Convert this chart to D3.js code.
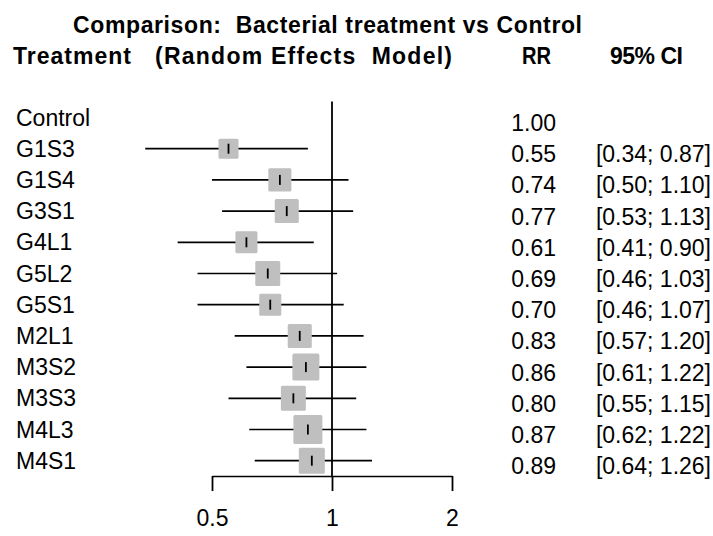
<!DOCTYPE html>
<html>
<head>
<meta charset="utf-8">
<script src="https://cdn.jsdelivr.net/npm/d3@7"></script>
<style>
  body { margin: 0; background: #fff; }
  text { font-family: "Liberation Sans", Arial, sans-serif; white-space: pre; }
</style>
</head>
<body>
<div id="chart"></div>
<script>
"use strict"

var treatments = ["Control", "G1S3", "G1S4", "G3S1", "G4L1", "G5L2", "G5S1", "M2L1", "M3S2", "M3S3", "M4L3", "M4S1"];
var rr = [1.00, 0.55, 0.74, 0.77, 0.61, 0.69, 0.70, 0.83, 0.86, 0.80, 0.87, 0.89];
var lower = [null, 0.34, 0.50, 0.53, 0.41, 0.46, 0.46, 0.57, 0.61, 0.55, 0.62, 0.64];
var upper = [null, 0.87, 1.10, 1.13, 0.90, 1.03, 1.07, 1.20, 1.22, 1.15, 1.22, 1.26];
var weights = [null, 6.1, 8.1, 8.8, 7.4, 9.5, 7.4, 8.8, 11.1, 9.5, 12.8, 10.3];
var tickValues = [0.5, 1, 2];
var tickLabels = ["0.5", "1", "2"];

var width = 713, height = 536, fs = 23;

var svg = d3.select("#chart").append("svg")
    .attr("width", width).attr("height", height);

var x = d3.scaleLog().domain([0.5, 2]).range([212, 452]);
var y = d3.scalePoint().domain(treatments).range([117.5, 460.7]);
var box = d3.scaleSqrt().domain([0, 12.8]).range([0, 29]);

var rows = treatments.map(function(t, i){
    return {name: t, rr: rr[i], lo: lower[i], hi: upper[i], w: weights[i]};
});

// headers (widths fitted to the original spacing)
var header = svg.append("g").attr("font-weight", "bold").attr("font-size", fs);
function head(str, x0, y0, len, adj){
    header.append("text").attr("x", x0).attr("y", y0)
        .attr("textLength", len).attr("lengthAdjust", adj || "spacing")
        .text(str);
}
head("Comparison:  Bacterial treatment vs Control", 73, 33, 509);
head("Treatment", 13, 64, 118);
head("(Random Effects  Model)", 155, 64, 297);
head("RR", 522, 64, 29, "spacingAndGlyphs");
head("95% CI", 610, 64, 73);

// reference line at 1
svg.append("line")
    .attr("x1", x(1)).attr("x2", x(1))
    .attr("y1", 101.5).attr("y2", 476)
    .attr("stroke", "#000").attr("stroke-width", 1.8);

// axis
var axis = d3.axisBottom(x).tickValues(tickValues)
    .tickFormat(function(d, i){ return tickLabels[i]; })
    .tickSizeInner(15).tickSizeOuter(0).tickPadding(19);
var ax = svg.append("g").attr("transform", "translate(0,476)").call(axis);
ax.select(".domain").attr("stroke-width", 1.5);
ax.selectAll(".tick line").attr("stroke-width", 1.8);
ax.selectAll(".tick text").attr("font-size", fs)
    .attr("font-family", "Liberation Sans, Arial, sans-serif");

var study = rows.filter(function(d){ return d.lo !== null; });

// CI lines
svg.append("g").selectAll("line").data(study).join("line")
    .attr("x1", function(d){ return x(d.lo); })
    .attr("x2", function(d){ return x(d.hi); })
    .attr("y1", function(d){ return y(d.name); })
    .attr("y2", function(d){ return y(d.name); })
    .attr("stroke", "#000").attr("stroke-width", 1.7);

// weight boxes
svg.append("g").selectAll("rect").data(study).join("rect")
    .attr("x", function(d){ return x(d.rr) - box(d.w) / 2; })
    .attr("y", function(d){ return y(d.name) - box(d.w) / 2; })
    .attr("width", function(d){ return box(d.w); })
    .attr("height", function(d){ return box(d.w); })
    .attr("rx", 1.5)
    .attr("fill", "#bfbfbf");

// estimate marks
svg.append("g").selectAll("line").data(study).join("line")
    .attr("x1", function(d){ return x(d.rr); })
    .attr("x2", function(d){ return x(d.rr); })
    .attr("y1", function(d){ return y(d.name) - 5; })
    .attr("y2", function(d){ return y(d.name) + 5; })
    .attr("stroke", "#000").attr("stroke-width", 1.8);

// text columns
var txt = svg.append("g").attr("font-size", fs);
txt.selectAll(".lab").data(rows).join("text").attr("class", "lab")
    .attr("x", 16).attr("y", function(d){ return y(d.name); })
    .attr("dy", "0.35em").text(function(d){ return d.name; });

txt.selectAll(".rr").data(rows).join("text").attr("class", "rr")
    .attr("x", 556).attr("y", function(d){ return y(d.name) + 5.5; })
    .attr("dy", "0.35em").attr("text-anchor", "end")
    .text(function(d){ return d.rr.toFixed(2); });

txt.selectAll(".ci").data(study).join("text").attr("class", "ci")
    .attr("x", 711).attr("y", function(d){ return y(d.name) + 5.5; })
    .attr("dy", "0.35em").attr("text-anchor", "end")
    .text(function(d){ return "[" + d.lo.toFixed(2) + "; " + d.hi.toFixed(2) + "]"; });
</script>
</body>
</html>
